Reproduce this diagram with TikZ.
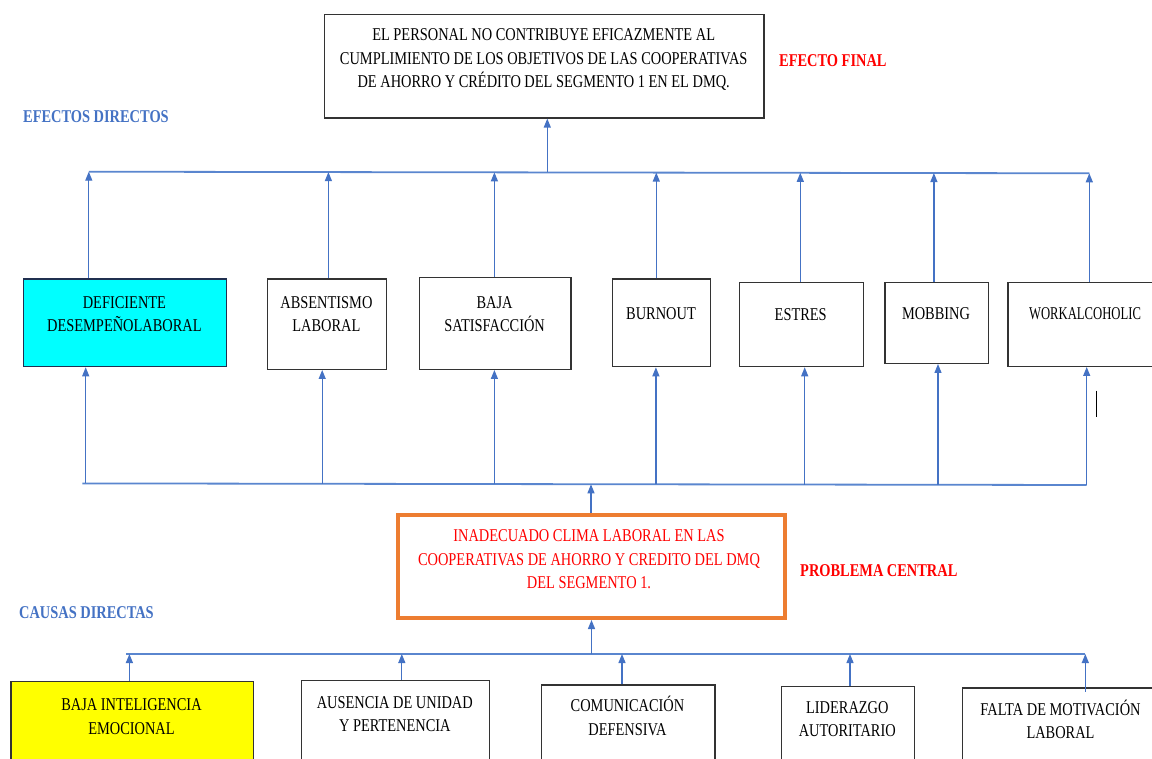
\documentclass[tikz,border=0pt]{standalone}
\usepackage{fontspec}
\setmainfont{Liberation Serif}[FakeStretch=0.8]
\usetikzlibrary{arrows.meta}

\definecolor{flowblue}{HTML}{4472C4}
\definecolor{busblue}{HTML}{5A86CF}
\definecolor{boxline}{HTML}{333333}
\definecolor{cyanfill}{HTML}{00FFFF}
\definecolor{cyanline}{HTML}{203050}
\definecolor{yellowfill}{HTML}{FFFF00}
\definecolor{probline}{HTML}{ED7D31}
\definecolor{alertred}{HTML}{FF0000}

% stacked, centred lines whose reference point is the first baseline
\newcommand\lines[1]{\begin{tabular}[t]{@{}c@{}}#1\end{tabular}}
\newcommand\txtsize{\fontsize{18}{23.4}\selectfont}

\tikzset{
  x=1pt, y=-1pt,
  box/.style={draw=boxline, line width=1.3pt, inner sep=0pt, anchor=north west},
  lbl/.style={inner sep=0pt, anchor=base, font=\txtsize},
  tag/.style={inner sep=0pt, anchor=base west, font=\txtsize\bfseries},
  bus/.style={draw=busblue, line width=1.8pt},
  arr/.style={draw=flowblue, line width=1.2pt, -{Triangle[length=9pt,width=7pt]}},
}

\begin{document}
\begin{tikzpicture}
\useasboundingbox (0,0) rectangle (1152,759);
\fill[white] (0,0) rectangle (1152,759);
\clip (0,0) rectangle (1152,759);

% ---------- final effect ----------
\node[box, minimum width=439.4pt, minimum height=103.3pt] (fin) at (324,14) {};
\node[lbl] (fint) at (543.7,40.7) {\lines{EL PERSONAL NO CONTRIBUYE EFICAZMENTE AL\\CUMPLIMIENTO DE LOS OBJETIVOS DE LAS COOPERATIVAS\\DE AHORRO Y CRÉDITO DEL SEGMENTO 1 EN EL DMQ.}};
\node[tag, text=alertred] (finlbl) at (779,66.7) {EFECTO FINAL};
\node[tag, text=flowblue] (efflbl) at (23,122.7) {EFECTOS DIRECTOS};

% ---------- direct effects ----------
\node[box, fill=cyanfill, draw=cyanline, minimum width=202.8pt, minimum height=87.7pt] (e1) at (23,278.3) {};
\node[box, minimum width=118.8pt, minimum height=90.4pt] (e2) at (267,278.3) {};
\node[box, minimum width=151.2pt, minimum height=92pt] (e3) at (419,276.7) {};
\node[box, minimum width=98pt, minimum height=87.7pt] (e4) at (612,278.3) {};
\node[box, minimum width=124pt, minimum height=84.3pt] (e5) at (738.7,281.7) {};
\node[box, minimum width=103.2pt, minimum height=81pt] (e6) at (884.3,281.7) {};
\node[box, minimum width=156pt, minimum height=84pt] (e7) at (1007.3,281.7) {};

\node[lbl] (e1t) at (124.4,308.3) {\lines{DEFICIENTE\\DESEMPEÑOLABORAL}};
\node[lbl] (e2t) at (326.4,308.3) {\lines{ABSENTISMO\\LABORAL}};
\node[lbl] (e3t) at (494.6,308.3) {\lines{BAJA\\SATISFACCIÓN}};
\node[lbl] (e4t) at (661,320) {BURNOUT};
\node[lbl] (e5t) at (800.7,321) {ESTRES};
\node[lbl] (e6t) at (936,319.3) {MOBBING};
\node[lbl] (e7t) at (1085,319.5) {\scalebox{0.88}[1]{WORKALCOHOLIC}};

% upper bus (effects -> final effect)
\coordinate (u1) at (88.8,171.7);
\coordinate (u2) at (328.4,172.1);
\coordinate (u3) at (494.4,172.35);
\coordinate (uf) at (547.3,172.4);
\coordinate (u4) at (656.3,172.6);
\coordinate (u5) at (800.3,172.8);
\coordinate (u6) at (933.9,173.05);
\coordinate (u7) at (1089.3,173.3);
\draw[bus] (u1) -- (u7);
\foreach \i in {1,...,7} \draw[arr] (e\i.north -| u\i) -- (u\i);
\draw[arr] (uf) -- (fin.south -| uf);

% ---------- central problem ----------
\node[box, draw=probline, line width=4pt, minimum width=386.5pt, minimum height=102.7pt] (prob) at (396,513.3) {};
\node[lbl, text=alertred] (probt) at (589,541.7) {\lines{INADECUADO CLIMA LABORAL EN LAS\\COOPERATIVAS DE AHORRO Y CREDITO DEL DMQ\\DEL SEGMENTO 1.}};
\node[tag, text=alertred] (problbl) at (800,576) {PROBLEMA CENTRAL};
\node[tag, text=flowblue] (caulbl) at (19,618) {CAUSAS DIRECTAS};

% middle bus (problem -> effects)
\coordinate (m0) at (82.3,483.4);
\coordinate (m1) at (85.7,483.4);
\coordinate (m2) at (322.2,483.8);
\coordinate (m3) at (494.4,484.1);
\coordinate (mp) at (591,484.3);
\coordinate (m4) at (655.9,484.4);
\coordinate (m5) at (804.7,484.6);
\coordinate (m6) at (938,484.8);
\coordinate (m7) at (1086.7,485);
\draw[bus] (m0) -- (m7);
\foreach \i in {1,...,7} \draw[arr] (m\i) -- (e\i.south -| m\i);
\draw[arr] (prob.north -| mp) -- (mp);

% stray vertical mark beside the last effect
\draw[black, line width=1pt] (1096.7,390.7) -- (1096.7,416.7);

% ---------- direct causes ----------
\node[box, fill=yellowfill, minimum width=242.3pt, minimum height=100pt] (c1) at (10.3,681) {};
\node[box, minimum width=187.7pt, minimum height=100pt] (c2) at (301,680) {};
\node[box, minimum width=173.5pt, minimum height=100pt] (c3) at (540.8,684.3) {};
\node[box, minimum width=132.5pt, minimum height=100pt] (c4) at (781,685.7) {};
\node[box, minimum width=197pt, minimum height=100pt] (c5) at (962,687.3) {};

\node[lbl] (c1t) at (131.5,710.7) {\lines{BAJA INTELIGENCIA\\EMOCIONAL}};
\node[lbl] (c2t) at (394.8,708) {\lines{AUSENCIA DE UNIDAD\\Y PERTENENCIA}};
\node[lbl] (c3t) at (627.5,711.7) {\lines{COMUNICACIÓN\\DEFENSIVA}};
\node[lbl] (c4t) at (847.3,713.3) {\lines{LIDERAZGO\\AUTORITARIO}};
\node[lbl] (c5t) at (1060.5,715) {\lines{FALTA DE MOTIVACIÓN\\LABORAL}};

% lower bus (causes -> problem)
\coordinate (l0) at (126,654);
\coordinate (l1) at (129.4,654);
\coordinate (l2) at (401.8,654);
\coordinate (lp) at (591.5,654);
\coordinate (l3) at (622,654);
\coordinate (l4) at (850,654);
\coordinate (l5) at (1085.3,654);
\draw[bus] (l0) -- (l5);
\foreach \i in {1,...,4} \draw[arr] (c\i.north -| l\i) -- (l\i);
\draw[arr] (1085.3,691.7) coordinate (l5s) -- (l5);
\draw[arr] (lp) -- (prob.south -| lp);
\end{tikzpicture}
\end{document}
